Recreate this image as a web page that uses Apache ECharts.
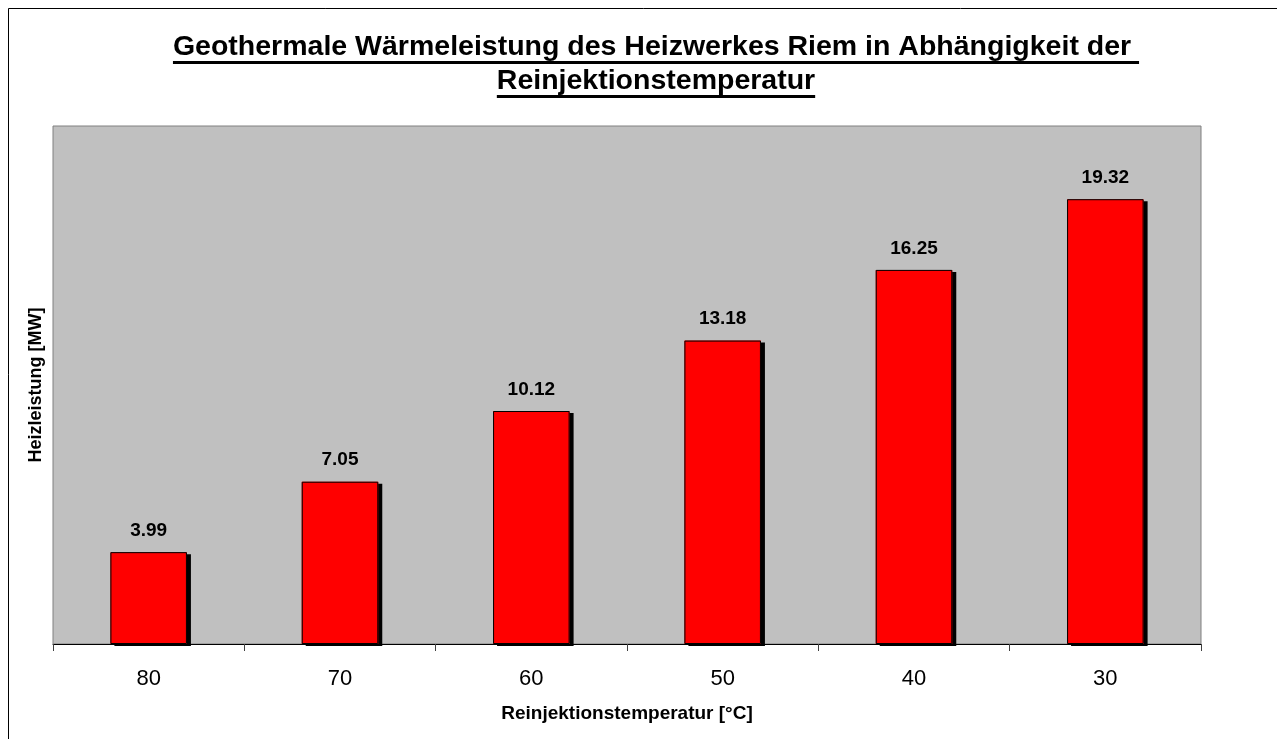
<!DOCTYPE html>
<html>
<head>
<meta charset="utf-8">
<script src="https://cdn.jsdelivr.net/npm/echarts@6/dist/echarts.min.js"></script>
<style>
html, body { margin: 0; padding: 0; background: #fff; }
#main { width: 1277px; height: 739px; }
</style>
</head>
<body>
<div id="main"></div>
<script>
// Daten
var categories = ['80', '70', '60', '50', '40', '30'];
var leistung = [3.99, 7.05, 10.12, 13.18, 16.25, 19.32];
var titleLines = ['Geothermale Wärmeleistung des Heizwerkes Riem in Abhängigkeit der ', 'Reinjektionstemperatur'];

var FONT = '"Liberation Sans", Arial, sans-serif';

// Textbreite messen (für Unterstreichung)
function textWidth(txt, font) {
	var ctx = document.createElement('canvas').getContext('2d');
	ctx.font = font;
	return ctx.measureText(txt).width;
}

var titleSize = 28.5;
var titleX = 656;
var titleY = [47, 81];
var titleGraphics = [];
titleLines.forEach(function(line, i) {
	var w = textWidth(line, 'bold ' + titleSize + 'px ' + FONT);
	titleGraphics.push({
		type: 'text', x: titleX, y: titleY[i],
		style: { text: line, font: 'bold ' + titleSize + 'px ' + FONT, fill: '#000', textAlign: 'center', textVerticalAlign: 'middle' }
	});
	titleGraphics.push({
		type: 'rect', shape: { x: titleX - w / 2, y: titleY[i] + 14, width: w, height: 3 },
		style: { fill: '#000' }
	});
});

var myChart = echarts.init(document.getElementById('main'));
var option = {
	backgroundColor: '#fff',
	animation: false,
	graphic: [{
		type: 'rect', shape: { x: 8.5, y: 8.5, width: 1300, height: 800 },
		style: { fill: 'none', stroke: '#000', lineWidth: 1 }, z: -1
	}].concat(titleGraphics),
	grid: {
		left: 53, top: 126, right: 76, bottom: 95,
		show: true, backgroundColor: '#C0C0C0', borderColor: '#808080', borderWidth: 1
	},
	xAxis: {
		type: 'category',
		data: categories,
		boundaryGap: true,
		name: 'Reinjektionstemperatur [°C]',
		nameLocation: 'middle',
		nameGap: 60,
		nameTextStyle: { fontFamily: FONT, fontWeight: 'bold', fontSize: 19, color: '#000' },
		axisLine: { lineStyle: { color: '#000', width: 1 } },
		axisTick: { show: true, length: 7, lineStyle: { color: '#404040' } },
		axisLabel: { fontFamily: FONT, fontSize: 22, color: '#000', margin: 24 }
	},
	yAxis: {
		type: 'value',
		min: 0,
		max: 22.5,
		name: 'Heizleistung [MW]',
		nameLocation: 'middle',
		nameGap: 8,
		nameTextStyle: { fontFamily: FONT, fontWeight: 'bold', fontSize: 18, color: '#000' },
		axisLine: { show: false },
		axisTick: { show: false },
		axisLabel: { show: false },
		splitLine: { show: false }
	},
	series: [{
		// Füllung mit Schatten
		type: 'bar',
		data: leistung,
		barWidth: '40%',
		itemStyle: {
			color: '#FF0000', borderWidth: 0,
			shadowColor: '#000', shadowOffsetX: 4, shadowOffsetY: 2, shadowBlur: 0
		}
	}, {
		// Rahmen + Beschriftung
		type: 'bar',
		data: leistung,
		barWidth: '40%',
		barGap: '-100%',
		itemStyle: { color: 'rgba(0,0,0,0)', borderColor: '#000', borderWidth: 1 },
		label: {
			show: true, position: 'top', distance: 12,
			fontFamily: FONT, fontWeight: 'bold', fontSize: 19, color: '#000',
			formatter: function(p) { return p.value.toFixed(2); }
		}
	}]
};
myChart.setOption(option);
</script>
</body>
</html>
